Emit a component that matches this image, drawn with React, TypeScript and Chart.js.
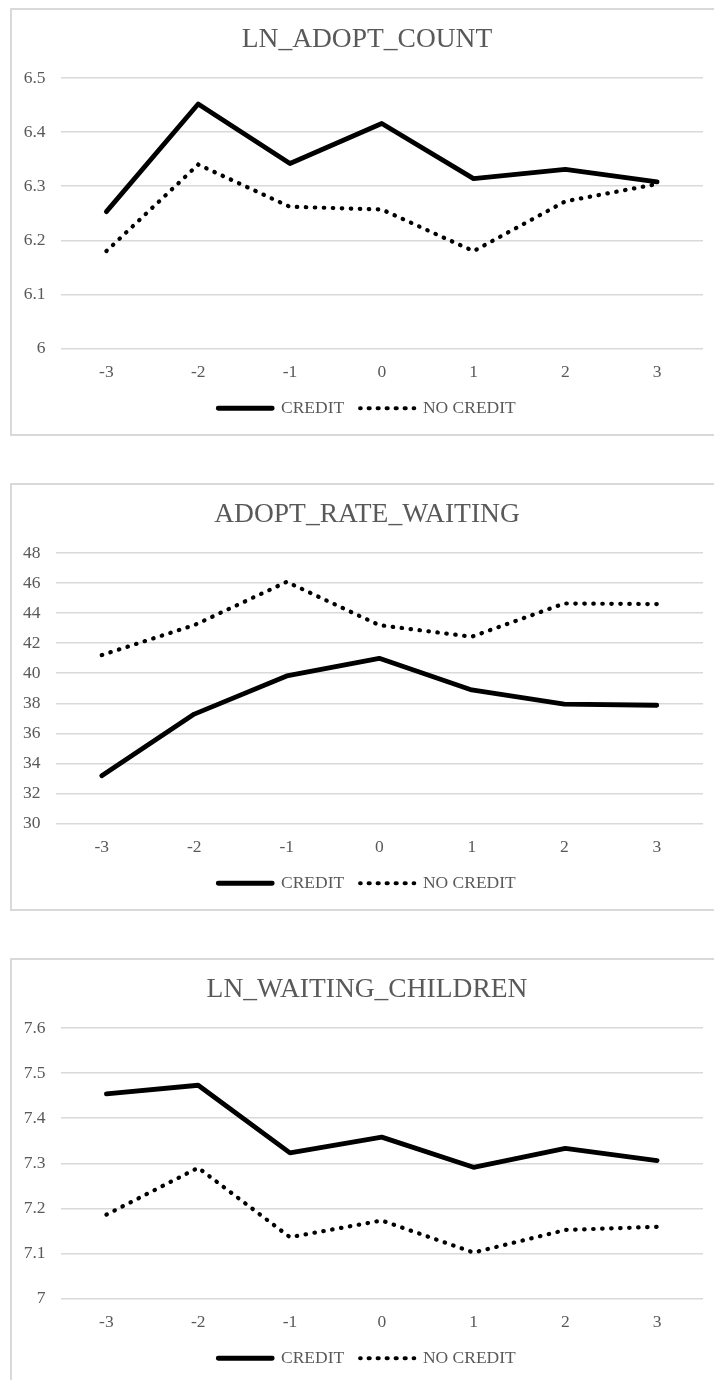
import React, { useEffect, useRef } from 'react';
import { Chart, registerables } from 'chart.js';

Chart.register(...registerables);

// ---- data ----
const xLabels = ['-3', '-2', '-1', '0', '1', '2', '3'];
const seriesNames = ['CREDIT', 'NO CREDIT'];

const titles = ['LN_ADOPT_COUNT', 'ADOPT_RATE_WAITING', 'LN_WAITING_CHILDREN'];

const adoptCountCredit = [6.253, 6.452, 6.342, 6.416, 6.314, 6.331, 6.308];
const adoptCountNoCredit = [6.18, 6.34, 6.262, 6.257, 6.18, 6.272, 6.304];
const adoptCountTicks = [6, 6.1, 6.2, 6.3, 6.4, 6.5];

const adoptRateCredit = [33.18, 37.28, 39.82, 40.99, 38.89, 37.94, 37.87];
const adoptRateNoCredit = [41.21, 43.2, 46.08, 43.2, 42.43, 44.64, 44.6];
const adoptRateTicks = [30, 32, 34, 36, 38, 40, 42, 44, 46, 48];

const waitingCredit = [7.454, 7.473, 7.323, 7.358, 7.291, 7.333, 7.306];
const waitingNoCredit = [7.186, 7.29, 7.136, 7.173, 7.102, 7.152, 7.159];
const waitingTicks = [7, 7.1, 7.2, 7.3, 7.4, 7.5, 7.6];

const FONT = "'Liberation Serif', 'Times New Roman', serif";
const TEXT = '#595959';
const GRID = '#d9d9d9';

const SOLID_W = 4.8;
const DOT_W = 4.2;
const DOT_DASH = [0.5, 8.5];

type PanelProps = {
  title: string;
  credit: number[];
  noCredit: number[];
  yTicks: number[];
  top: number;
  yWidth: number;
};

function Panel({ title, credit, noCredit, yTicks, top, yWidth }: PanelProps) {
  const ref = useRef<HTMLCanvasElement | null>(null);

  useEffect(() => {
    if (!ref.current) return;
    const tickFont = { family: FONT, size: 17.5 };
    const chart = new Chart(ref.current, {
      type: 'line',
      data: {
        labels: xLabels,
        datasets: [
          {
            label: seriesNames[0],
            data: credit,
            borderColor: '#000',
            backgroundColor: '#000',
            borderWidth: SOLID_W,
            pointRadius: 0,
            tension: 0,
            borderCapStyle: 'round',
            borderJoinStyle: 'round',
          },
          {
            label: seriesNames[1],
            data: noCredit,
            borderColor: '#000',
            backgroundColor: '#000',
            borderWidth: DOT_W,
            borderDash: DOT_DASH,
            borderCapStyle: 'round',
            pointRadius: 0,
            tension: 0,
          },
        ],
      },
      options: {
        responsive: false,
        maintainAspectRatio: false,
        animation: false,
        layout: { padding: { left: 0, right: 0, top: 0, bottom: 7 } },
        plugins: {
          title: {
            display: true,
            text: title,
            color: TEXT,
            font: { family: FONT, size: 27.5, weight: 'normal', lineHeight: 1.2 },
            padding: { top: 13.5, bottom: 21.5 },
          },
          legend: {
            position: 'bottom',
            labels: {
              boxWidth: 54,
              boxHeight: 0,
              color: TEXT,
              font: tickFont,
              padding: 16,
              generateLabels: (c: any) => {
                const items = Chart.defaults.plugins.legend.labels.generateLabels(c);
                return items.map((it: any, i: number) => ({
                  ...it,
                  fillStyle: 'rgba(0,0,0,0)',
                  strokeStyle: '#000',
                  lineWidth: i === 0 ? SOLID_W : DOT_W,
                  lineDash: i === 0 ? [] : DOT_DASH,
                  lineCap: i === 0 ? 'butt' : 'round',
                  borderRadius: 0,
                }));
              },
            },
          },
          tooltip: { enabled: false },
        },
        scales: {
          x: {
            type: 'category',
            offset: true,
            grid: { display: false },
            border: { display: false },
            ticks: { color: TEXT, font: tickFont, padding: 5, maxRotation: 0 },
            afterFit: (a: any) => {
              a.height = 35;
            },
          },
          y: {
            type: 'linear',
            min: yTicks[0],
            max: yTicks[yTicks.length - 1],
            grid: { color: GRID, lineWidth: 1.5, drawTicks: false },
            border: { display: false },
            ticks: {
              color: TEXT,
              font: tickFont,
              padding: 15,
              callback: (v: any) => String(v),
            },
            afterBuildTicks: (a: any) => {
              a.ticks = yTicks.map((v) => ({ value: v }));
            },
            afterFit: (a: any) => {
              a.width = yWidth;
            },
          },
          pad: {
            type: 'linear',
            position: 'right',
            display: true,
            grid: { display: false },
            border: { display: false },
            ticks: { display: false },
            afterFit: (a: any) => {
              a.width = 19;
            },
          },
        },
      } as any,
    });
    return () => chart.destroy();
  }, []);

  return (
    <div
      style={{
        position: 'absolute',
        left: 10,
        top,
        width: 710,
        height: 424,
        border: `2px solid ${GRID}`,
        background: '#fff',
      }}
    >
      <canvas ref={ref} width={710} height={424} style={{ display: 'block', width: 710, height: 424 }} />
    </div>
  );
}

export default function App() {
  return (
    <div
      style={{
        position: 'absolute',
        top: 0,
        left: 0,
        width: 714,
        height: 1380,
        overflow: 'hidden',
        background: '#fff',
      }}
    >
      <Panel title={titles[0]} credit={adoptCountCredit} noCredit={adoptCountNoCredit} yTicks={adoptCountTicks} top={8} yWidth={48.5} />
      <Panel title={titles[1]} credit={adoptRateCredit} noCredit={adoptRateNoCredit} yTicks={adoptRateTicks} top={483} yWidth={43.5} />
      <Panel title={titles[2]} credit={waitingCredit} noCredit={waitingNoCredit} yTicks={waitingTicks} top={958} yWidth={48.5} />
    </div>
  );
}
